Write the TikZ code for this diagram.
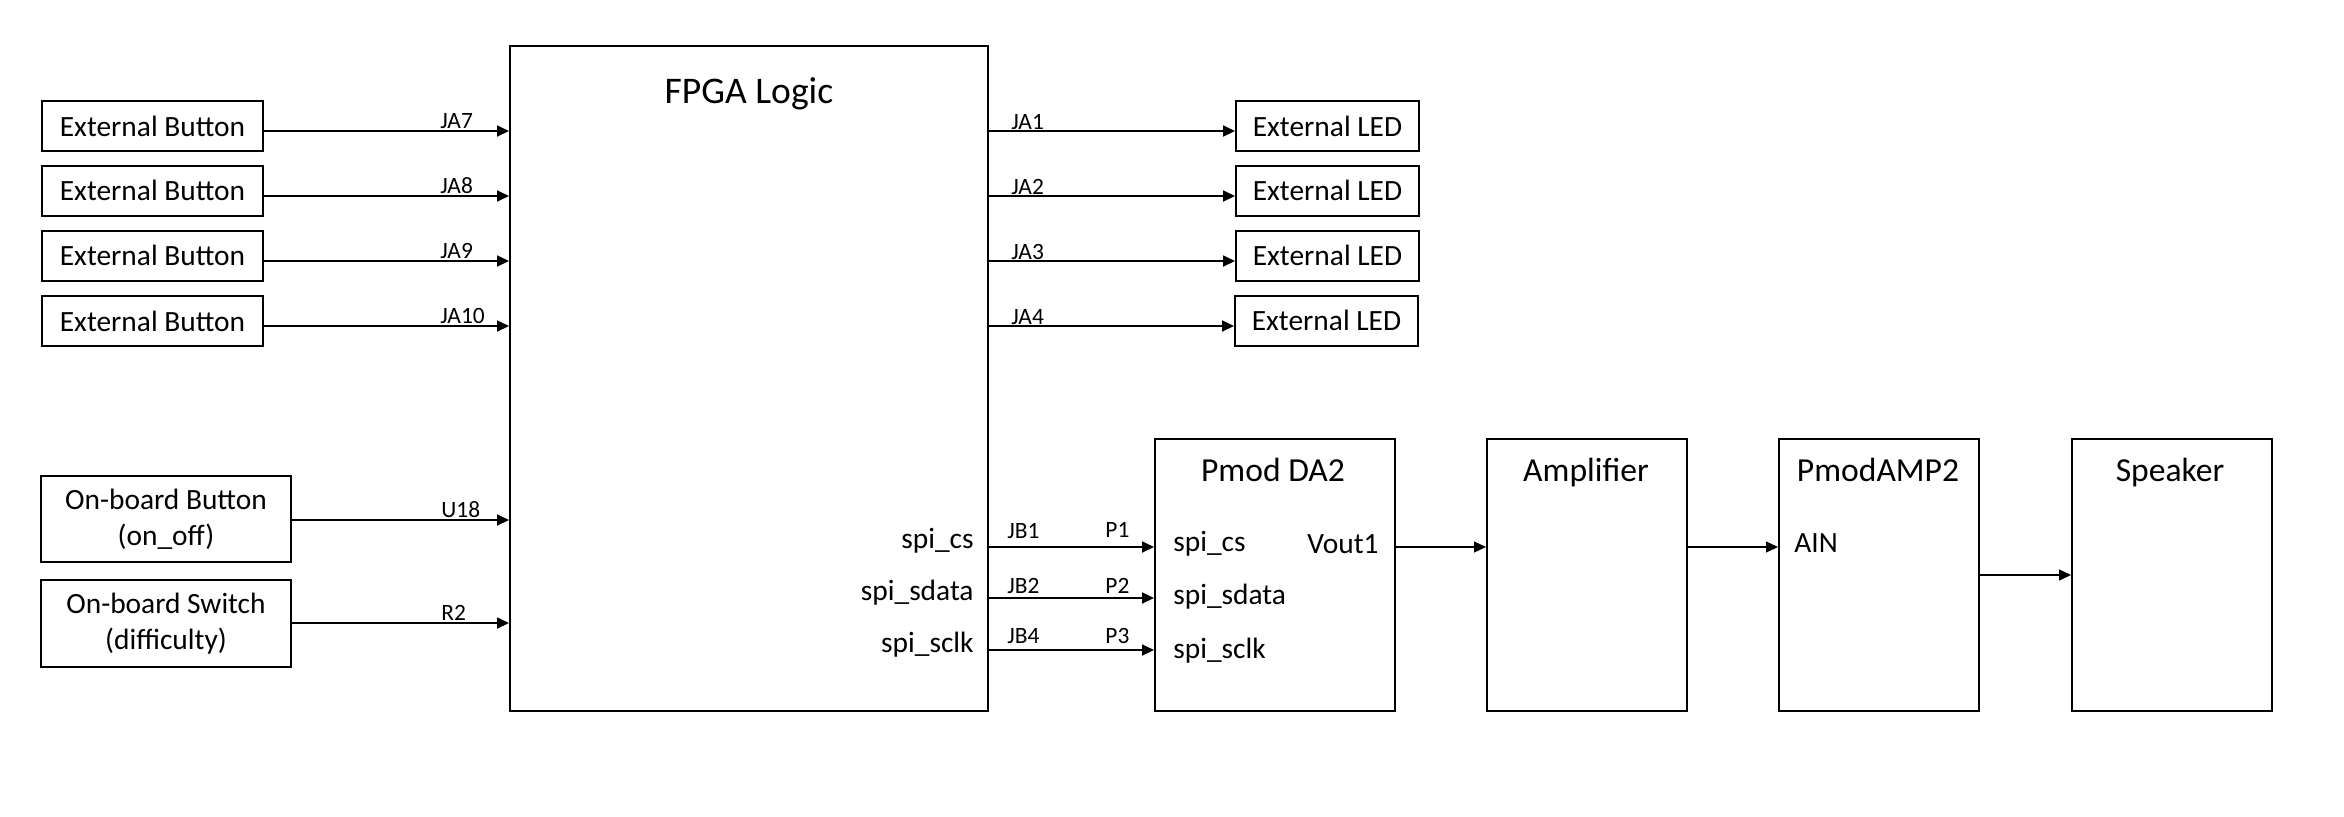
\documentclass[tikz,border=0pt]{standalone}
\usepackage{fontspec}
\setmainfont{Carlito}
\usetikzlibrary{arrows.meta,calc}
\newlength\pxu \setlength\pxu{0.5pt}
\begin{document}
\begin{tikzpicture}[x=0.5pt,y=-0.5pt,
  box/.style={draw,line width=1pt,inner sep=0pt,align=center,font=\fontsize{14.7}{18}\selectfont},
  sig/.style={line width=0.9pt,-{Triangle[length=6pt,width=5.5pt]}},
  thinsig/.style={line width=0.55pt,-{Triangle[length=6pt,width=5.5pt]}},
  lab/.style={font=\fontsize{11.7}{13}\selectfont,inner sep=0pt,anchor=base west},
  txt/.style={font=\fontsize{14.7}{17}\selectfont,inner sep=0pt},
  ttl/.style={font=\fontsize{16.8}{20}\selectfont,inner sep=0pt,anchor=base}]
\useasboundingbox[fill=white] (0,0) rectangle (2344,816);

% left input boxes
\node[box,minimum width=221\pxu,minimum height=50\pxu] (b1) at (152.5,126) {External Button};
\node[box,minimum width=221\pxu,minimum height=50\pxu] (b2) at (152.5,190.5) {External Button};
\node[box,minimum width=221\pxu,minimum height=50\pxu] (b3) at (152.5,255.5) {External Button};
\node[box,minimum width=221\pxu,minimum height=50\pxu] (b4) at (152.5,321) {External Button};
\node[box,minimum width=250\pxu,minimum height=86\pxu] (ob) at (166,519) {On-board Button\\(on\_off)};
\node[box,minimum width=250\pxu,minimum height=87\pxu] (os) at (166,623.5) {On-board Switch\\(difficulty)};

% FPGA
\node[box,minimum width=478\pxu,minimum height=665\pxu] (fpga) at (749,378.5) {};
\node[txt,font=\fontsize{18.8}{22}\selectfont,anchor=base] (fpgat) at (749,103) {FPGA Logic};
\node[txt,anchor=base east] (fcs) at (974,548) {spi\_cs};
\node[txt,anchor=base east] (fsd) at (974,600) {spi\_sdata};
\node[txt,anchor=base east] (fsc) at (974,652) {spi\_sclk};

% LEDs
\node[box,minimum width=183\pxu,minimum height=50\pxu] (l1) at (1327.5,126) {External LED};
\node[box,minimum width=183\pxu,minimum height=50\pxu] (l2) at (1327.5,190.5) {External LED};
\node[box,minimum width=183\pxu,minimum height=50\pxu] (l3) at (1327.5,255.5) {External LED};
\node[box,minimum width=183\pxu,minimum height=50\pxu] (l4) at (1326.5,320.5) {External LED};

% chain boxes
\node[box,minimum width=240\pxu,minimum height=272\pxu] (da2) at (1275,575) {};
\node[box,minimum width=200\pxu,minimum height=272\pxu] (amp) at (1587,575) {};
\node[box,minimum width=200\pxu,minimum height=272\pxu] (amp2) at (1879,575) {};
\node[box,minimum width=200\pxu,minimum height=272\pxu] (spk) at (2172,575) {};
\node[ttl] (da2t) at (1273,481) {Pmod DA2};
\node[ttl] (ampt) at (1586,481) {Amplifier};
\node[ttl] (amp2t) at (1878,481) {PmodAMP2};
\node[ttl] (spkt) at (2170,481) {Speaker};
\node[txt,anchor=base west] (dcs) at (1173,551) {spi\_cs};
\node[txt,anchor=base west] (dsd) at (1173,604) {spi\_sdata};
\node[txt,anchor=base west] (dsc) at (1173,658) {spi\_sclk};
\node[txt,anchor=base east] (vout) at (1379,553) {Vout1};
\node[txt,anchor=base west] (ain) at (1794,552) {AIN};

% row coordinates
\coordinate (r1) at (0,131);
\coordinate (r2) at (0,196);
\coordinate (r3) at (0,261);
\coordinate (r4) at (0,326);
\coordinate (ru) at (0,520);
\coordinate (rr) at (0,623);
\coordinate (s1) at (0,547);
\coordinate (s2) at (0,598);
\coordinate (s3) at (0,650);
\coordinate (sp) at (0,575);

% input arrows
\draw[sig] (b1.east |- r1) -- (fpga.west |- r1);
\draw[sig] (b2.east |- r2) -- (fpga.west |- r2);
\draw[sig] (b3.east |- r3) -- (fpga.west |- r3);
\draw[sig] (b4.east |- r4) -- (fpga.west |- r4);
\draw[sig] (ob.east |- ru) -- (fpga.west |- ru);
\draw[sig] (os.east |- rr) -- (fpga.west |- rr);
\node[lab] (ja7) at (440,128) {JA7};
\node[lab] (ja8) at (440,193) {JA8};
\node[lab] (ja9) at (440,258) {JA9};
\node[lab] (ja10) at (440,323) {JA10};
\node[lab] (u18) at (441,517) {U18};
\node[lab] (r2l) at (441,620) {R2};

% output arrows
\draw[sig] (fpga.east |- r1) -- (l1.west |- r1);
\draw[sig] (fpga.east |- r2) -- (l2.west |- r2);
\draw[sig] (fpga.east |- r3) -- (l3.west |- r3);
\draw[sig] (fpga.east |- r4) -- (l4.west |- r4);
\node[lab] (ja1) at (1011,129) {JA1};
\node[lab] (ja2) at (1011,194) {JA2};
\node[lab] (ja3) at (1011,259) {JA3};
\node[lab] (ja4) at (1011,324) {JA4};

% SPI arrows
\draw[sig] (fpga.east |- s1) -- (da2.west |- s1);
\draw[sig] (fpga.east |- s2) -- (da2.west |- s2);
\draw[sig] (fpga.east |- s3) -- (da2.west |- s3);
\node[lab] (jb1) at (1007,538) {JB1};
\node[lab] (jb2) at (1007,593) {JB2};
\node[lab] (jb4) at (1007,643) {JB4};
\node[lab] (p1) at (1105,537) {P1};
\node[lab] (p2) at (1105,593) {P2};
\node[lab] (p3) at (1105,643) {P3};

% audio chain
\draw[thinsig] (da2.east |- s1) -- (amp.west |- s1);
\draw[thinsig] (amp.east |- s1) -- (amp2.west |- s1);
\draw[thinsig] (amp2.east |- sp) -- (spk.west |- sp);
\end{tikzpicture}
\end{document}
